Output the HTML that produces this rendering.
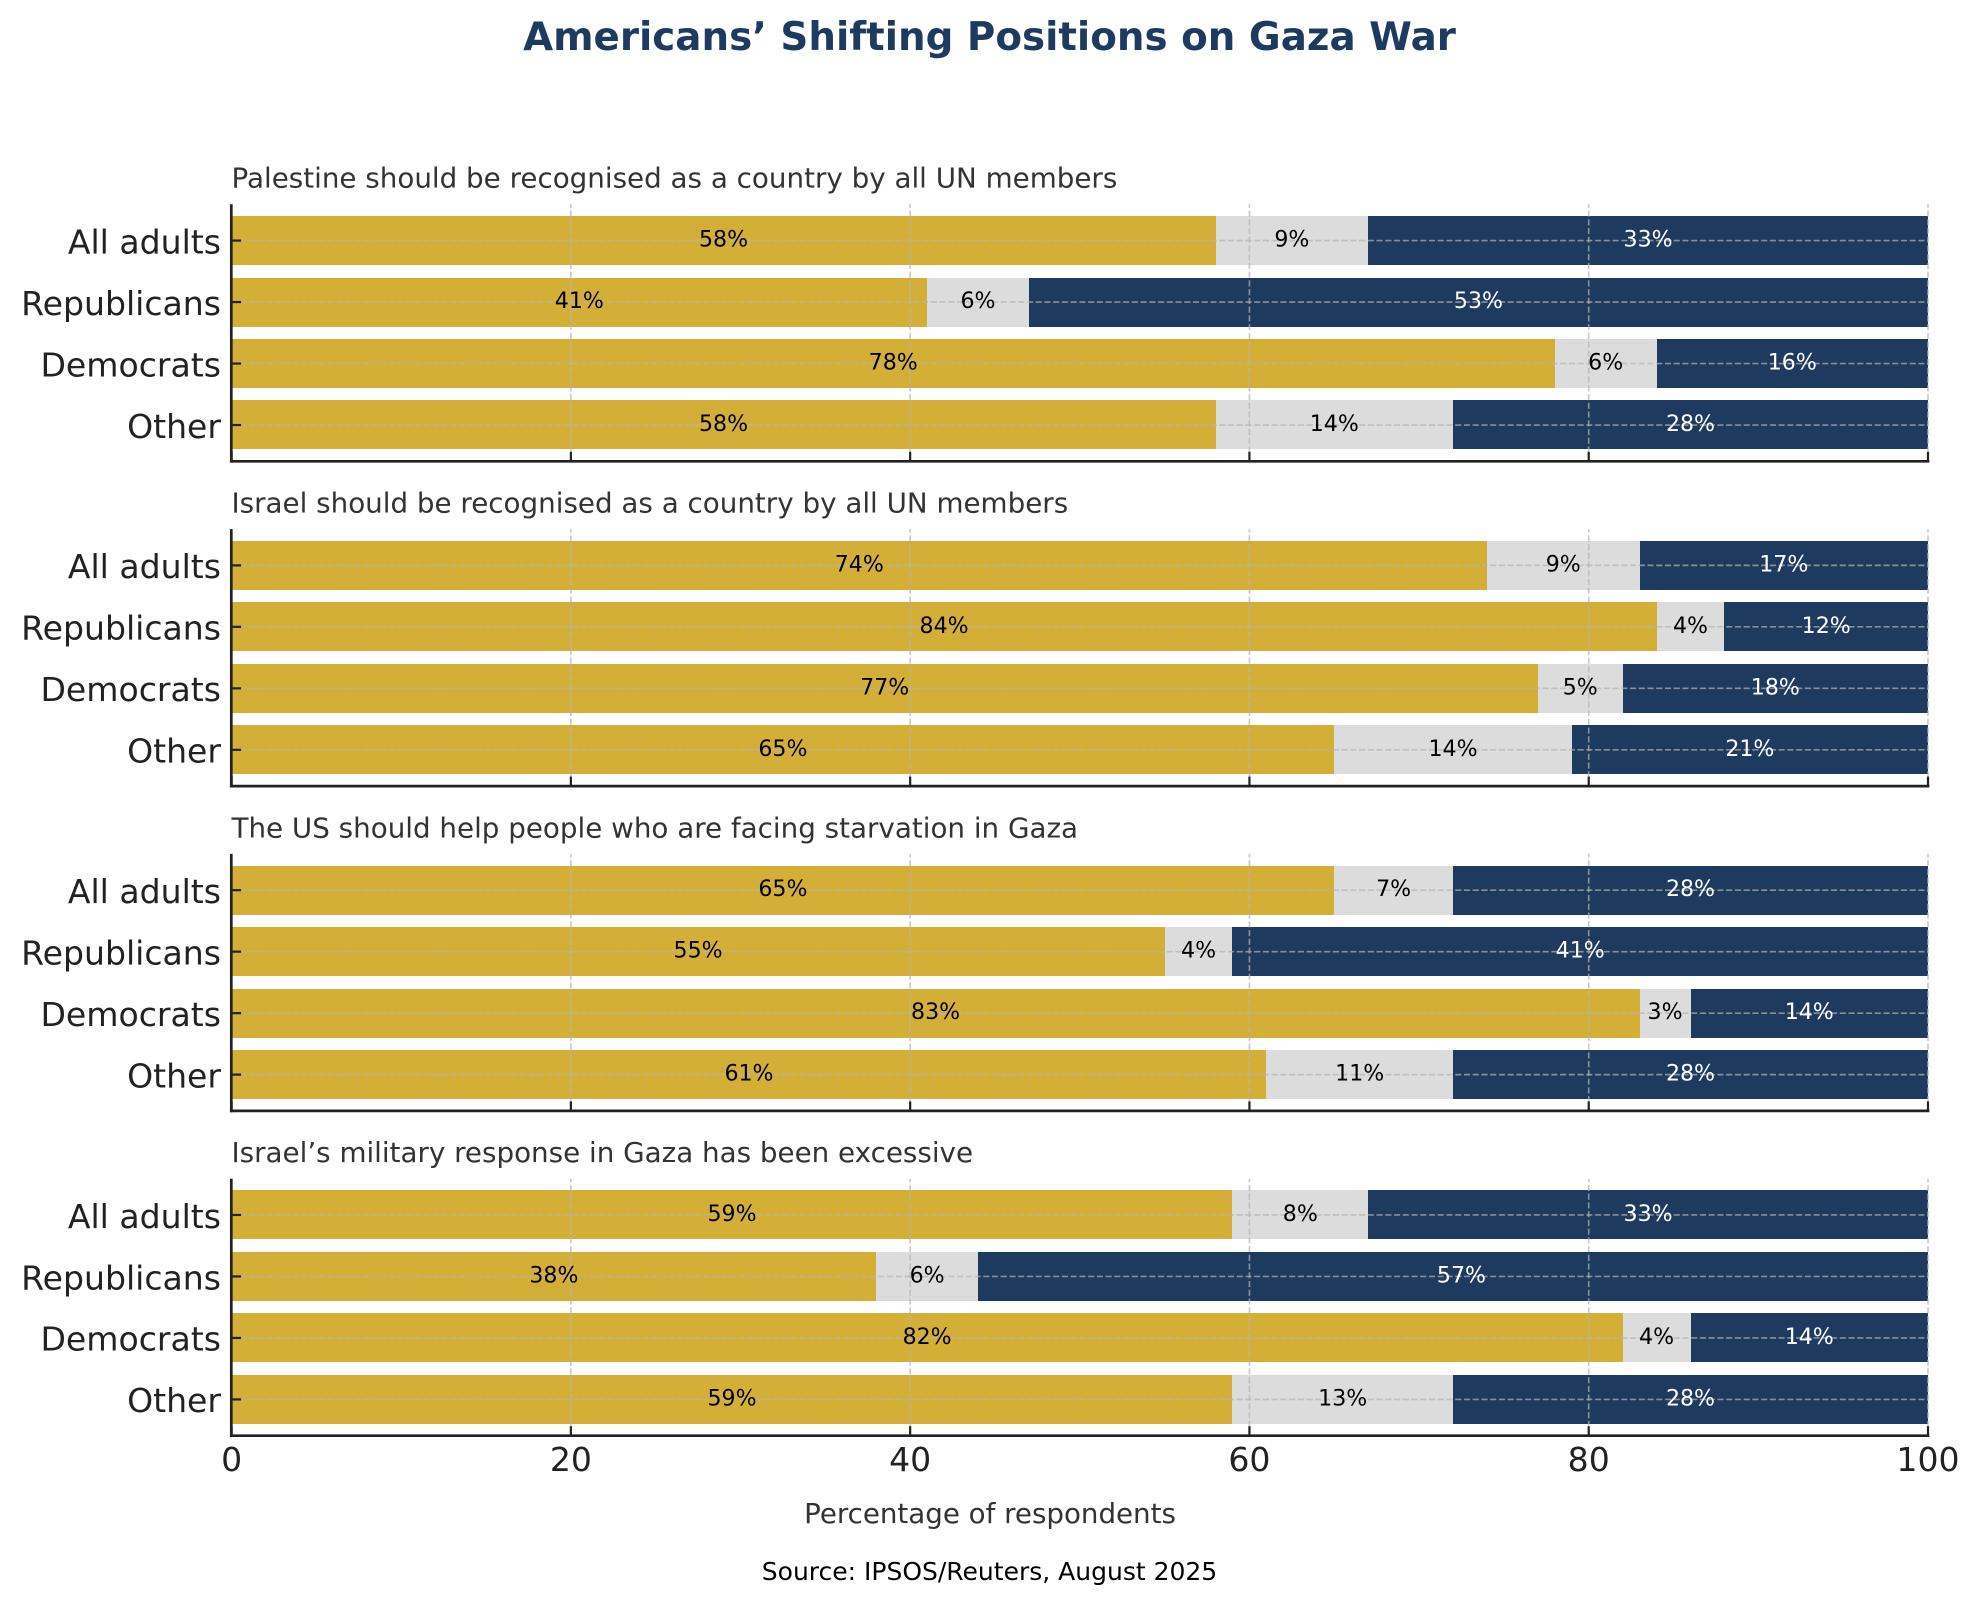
<!DOCTYPE html>
<html lang="en">
<head>
<meta charset="utf-8">
<title>Americans’ Shifting Positions on Gaza War</title>
<style>
html,body{margin:0;padding:0;background:#fff;width:1979px;height:1605px;overflow:hidden}
svg{display:block;font-family:"DejaVu Sans","Liberation Sans",sans-serif}
</style>
</head>
<body>
<svg id="chart" xmlns="http://www.w3.org/2000/svg" width="1979" height="1605" viewBox="0 0 1979 1605">
<rect x="0" y="0" width="1979" height="1605" fill="#fff"/>
<text x="989.5" y="50" text-anchor="middle" font-size="38.8" font-weight="700" fill="#1F3A5F">Americans’ Shifting Positions on Gaza War</text>
<text x="990" y="1523" text-anchor="middle" font-size="27.7" fill="#333">Percentage of respondents</text>
<text x="989.5" y="1580" text-anchor="middle" font-size="25" fill="#000">Source: IPSOS/Reuters, August 2025</text>
</svg>
<script>
const categories = ["All adults", "Republicans", "Democrats", "Other"];
const questions = [
  "Palestine should be recognised as a country by all UN members",
  "Israel should be recognised as a country by all UN members",
  "The US should help people who are facing starvation in Gaza",
  "Israel’s military response in Gaza has been excessive"
];
const supportValues = [
  [58, 41, 78, 58],
  [74, 84, 77, 65],
  [65, 55, 83, 61],
  [59, 38, 82, 59]
];
const unsureValues = [
  [9, 6, 6, 14],
  [9, 4, 5, 14],
  [7, 4, 3, 11],
  [8, 6, 4, 13]
];
const opposeValues = [
  [33, 53, 16, 28],
  [17, 12, 18, 21],
  [28, 41, 14, 28],
  [33, 57, 14, 28]
];
const xTicks = [0, 20, 40, 60, 80, 100];

const svg = document.getElementById('chart');
const NS = 'http://www.w3.org/2000/svg';
const GOLD = '#D4AF37', GREY = '#DCDCDC', NAVY = '#1F3A5F', INK = '#222222';
const X0 = 231.6, X1 = 1928, PANEL_H = 257, BOTTOM0 = 461.3, PANEL_STEP = 324.8;
const SLOT = PANEL_H / 4.18;

function xScale(v) { return X0 + (v / 100) * (X1 - X0); }
function panelBottom(p) { return BOTTOM0 + p * PANEL_STEP; }
function panelTop(p) { return panelBottom(p) - PANEL_H; }
function yScale(p, i) { return panelTop(p) + (0.59 + i) * SLOT; }

function make(tag, attrs, parent, txt) {
  const el = document.createElementNS(NS, tag);
  for (const k in attrs) el.setAttribute(k, attrs[k]);
  if (txt !== undefined) el.textContent = txt;
  parent.appendChild(el);
  return el;
}

const defs = make('defs', {}, svg);

questions.forEach(function (q, p) {
  const g = make('g', {}, svg);
  
  

  const clip = make('clipPath', { id: 'plot-clip-' + p }, defs);
  make('rect', { x: X0, y: panelTop(p), width: X1 - X0, height: PANEL_H }, clip);

  const title = make('text', { x: 231.5, y: panelBottom(p) - 273.6, 'font-size': 27.75, fill: '#333' }, g, q);
  
  

  // stacked bars, clipped to the plot area like the original axes
  const barGroup = make('g', { 'clip-path': 'url(#plot-clip-' + p + ')' }, g);
  
  
  categories.forEach(function (c, i) {
    const cy = yScale(p, i);
    const top = Math.round(cy - 0.4 * SLOT + 0.05);
    const parts = [
      { v: supportValues[p][i], fill: GOLD, key: 'support' },
      { v: unsureValues[p][i], fill: GREY, key: 'unsure' },
      { v: opposeValues[p][i], fill: NAVY, key: 'oppose' }
    ];
    let cum = 0;
    parts.forEach(function (s) {
      const left = Math.round(xScale(cum));
      const right = Math.round(xScale(cum + s.v));
      const r = make('rect', {
        x: left, y: top,
        width: right - left, height: 49,
        fill: s.fill, 'shape-rendering': 'crispEdges'
      }, barGroup);
      
      
      cum += s.v;
    });
  });

  // grid
  xTicks.forEach(function (t) {
    const l = make('line', {
      x1: xScale(t), x2: xScale(t), y1: panelBottom(p), y2: panelTop(p),
      stroke: '#b4b4b4', 'stroke-opacity': 0.7, 'stroke-width': 1.65, 'stroke-dasharray': '6.1 2.64'
    }, g);
    
    
  });
  categories.forEach(function (c, i) {
    const l = make('line', {
      x1: X0, x2: X1, y1: yScale(p, i), y2: yScale(p, i),
      stroke: '#b4b4b4', 'stroke-opacity': 0.7, 'stroke-width': 1.65, 'stroke-dasharray': '6.1 2.64'
    }, g);
    
    
  });

  // value labels
  categories.forEach(function (c, i) {
    const cy = yScale(p, i);
    const parts = [
      { v: supportValues[p][i], fill: '#000' },
      { v: unsureValues[p][i], fill: '#000' },
      { v: opposeValues[p][i], fill: '#fff' }
    ];
    let cum = 0;
    parts.forEach(function (s) {
      const t = make('text', {
        x: xScale(cum + s.v / 2), y: cy + 6,
        'text-anchor': 'middle', 'font-size': 22.1, fill: s.fill
      }, g, s.v + '%');
      
      
      cum += s.v;
    });
  });

  // y ticks and labels
  categories.forEach(function (c, i) {
    const cy = yScale(p, i);
    const tk = make('line', { x1: X0, x2: X0 + 9.5, y1: cy, y2: cy, stroke: INK, 'stroke-width': 2.2 }, g);
    
    
    const lb = make('text', { x: 221, y: cy + 12.8, 'text-anchor': 'end', 'font-size': 33.1, fill: INK }, g, c);
    
    
  });

  // x ticks
  xTicks.forEach(function (t) {
    const tk = make('line', {
      x1: xScale(t), x2: xScale(t), y1: panelBottom(p), y2: panelBottom(p) - 9.5,
      stroke: INK, 'stroke-width': 2.2
    }, g);
    
    
    if (p === questions.length - 1) {
      const lb = make('text', {
        x: xScale(t), y: panelBottom(p) + 35.2,
        'text-anchor': 'middle', 'font-size': 33.1, fill: INK
      }, g, String(t));
      
      
    }
  });

  // spines
  const sl = make('line', { x1: X0 - 0.3, x2: X0 - 0.3, y1: panelTop(p), y2: panelBottom(p) + 1.36, stroke: INK, 'stroke-width': 2.72 }, g);
  
  
  const sb = make('line', { x1: X0 - 1.66, x2: X1 + 1.36, y1: panelBottom(p), y2: panelBottom(p), stroke: INK, 'stroke-width': 2.72 }, g);
  
  
});
</script>
</body>
</html>
